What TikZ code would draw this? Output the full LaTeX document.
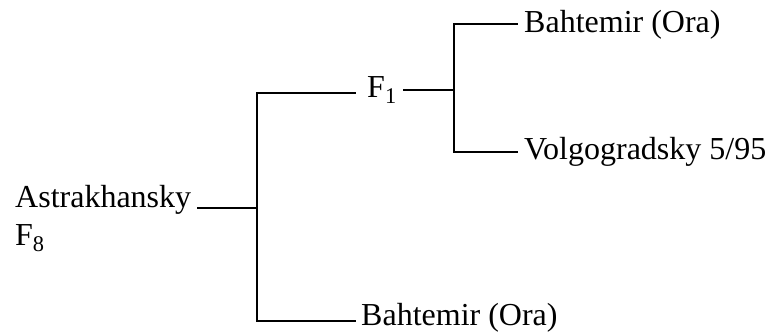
\documentclass[tikz,border=0pt]{standalone}
\usepackage{fontspec}
\setmainfont{Liberation Serif}
\begin{document}
\begin{tikzpicture}[x=1pt,y=-1pt,
  lbl/.style={anchor=base west,inner sep=0pt,font=\fontsize{32}{38}\selectfont},
  edge/.style={line width=1.3pt,line cap=rect}]
\useasboundingbox (0,0) rectangle (778,333);
% labels
\node[lbl] (astr) at (15,207) {Astrakhansky};
\node[lbl] (f8) at (15,245) {F\textsubscript{8}};
\node[lbl] (f1) at (367,97) {F\textsubscript{1}};
\node[lbl] (bt) at (524,32) {Bahtemir (Ora)};
\node[lbl] (vg) at (524,159) {Volgogradsky 5/95};
\node[lbl] (bb) at (361,325) {Bahtemir (Ora)};
% junction points
\coordinate (aR) at (198,208);
\coordinate (j) at (257,208);
\coordinate (jt) at (257,93);
\coordinate (jb) at (257,321);
\coordinate (f1L) at (355,93);
\coordinate (bbL) at (355,321);
\coordinate (f1R) at (404,90);
\coordinate (k) at (454,90);
\coordinate (kt) at (454,24);
\coordinate (kb) at (454,152);
\coordinate (btL) at (517,24);
\coordinate (vgL) at (517,152);
% connectors
\draw[edge] (aR) -- (j);
\draw[edge] (f1L) -- (jt) -- (jb) -- (bbL);
\draw[edge] (f1R) -- (k);
\draw[edge] (btL) -- (kt) -- (kb) -- (vgL);
\end{tikzpicture}
\end{document}
